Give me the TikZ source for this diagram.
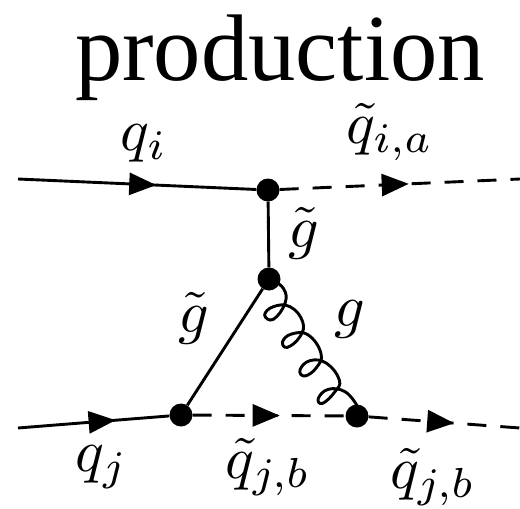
\documentclass[tikz,border=0pt]{standalone}
\usepackage{fontspec}
\setmainfont{Liberation Serif}
\usetikzlibrary{arrows.meta,decorations.markings}
\tikzset{
  vertex/.style={circle,fill=black,draw=none,minimum size=23pt,inner sep=0pt},
  line/.style={line width=2.9pt},
  scalar/.style={line width=2.9pt,dash pattern=on 19pt off 14pt},
  midtip/.style={postaction={decorate},decoration={markings,mark=at position #1 with {\arrow[solid]{Triangle[length=27pt,width=22pt]}}}},
  lab/.style={inner sep=0pt,scale=6},
  titlelab/.style={inner sep=0pt,font=\fontsize{94.6}{100}\selectfont}
}
\begin{document}
\begin{tikzpicture}[x=1pt,y=-1pt]
\useasboundingbox (0,0) rectangle (520,509);
\node[titlelab] (title) at (280,58) {production};
\node[vertex] (A) at (268,190) {};
\node[vertex] (B) at (269,279) {};
\node[vertex] (C) at (181,415) {};
\node[vertex] (D) at (357,416) {};
\coordinate (i1) at (18,179);
\coordinate (o1) at (520,179);
\coordinate (i2) at (18,428);
\coordinate (o2) at (520,428);
\draw[line,midtip=0.58] (i1) -- (A);
\draw[scalar,midtip=0.537] (A) -- (o1);
\draw[line] (A) -- (B);
\draw[line] (B) -- (C);
\draw[line,midtip=0.645] (i2) -- (C);
\draw[scalar,midtip=0.57] (C) -- (D);
\draw[scalar,midtip=0.565] (D) -- (o2);
\begin{scope}[shift={(170,260)},x=.3333pt,y=-.3333pt]
\draw[line,line cap=round] plot[smooth,tension=0.75] coordinates {
 (298,55) (340,85) (345,130) (310,178) (284,165) (310,140) (360,140) (398,185) (390,230) (352,262) (338,245) (365,222) (415,225) (453,280) (440,322) (405,348) (390,330) (420,302) (470,310) (508,360) (495,395) (458,430) (445,415) (475,388) (525,395) (560,435)};
\end{scope}
\node[lab] (l1) at (144,143) {$q_i$};
\node[lab] (l2) at (390,132) {$\tilde q_{i,a}$};
\node[lab] (l3) at (304,233) {$\tilde g$};
\node[lab] (l4) at (194,318) {$\tilde g$};
\node[lab] (l5) at (350,319) {$g$};
\node[lab] (l6) at (102,467) {$q_j$};
\node[lab] (l7) at (268,467) {$\tilde q_{j,b}$};
\node[lab] (l8) at (433,477) {$\tilde q_{j,b}$};
\end{tikzpicture}
\end{document}
